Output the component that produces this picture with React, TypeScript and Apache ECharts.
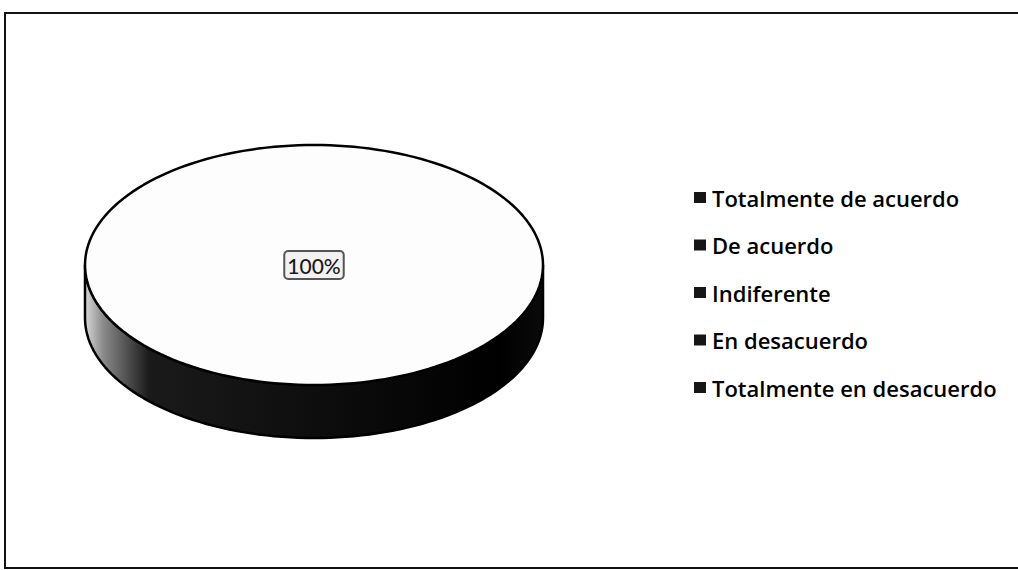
import React, { useEffect, useRef } from "react";
import * as echarts from "echarts";

const categories = [
  "Totalmente de acuerdo",
  "De acuerdo",
  "Indiferente",
  "En desacuerdo",
  "Totalmente en desacuerdo",
];
const values = [100, 0, 0, 0, 0];

const CX = 314;
const CY = 265;
const RX = 229;
const RY = 120;
const DEPTH = 53;
const STEPS = 180;

function pt(a: number, dy = 0): number[] {
  return [CX + RX * Math.sin(a), CY - RY * Math.cos(a) + dy];
}

function arcPoints(a0: number, a1: number, dy = 0): number[][] {
  const n = Math.max(2, Math.ceil(((a1 - a0) / (2 * Math.PI)) * STEPS));
  const out: number[][] = [];
  for (let i = 0; i <= n; i++) out.push(pt(a0 + ((a1 - a0) * i) / n, dy));
  return out;
}

export default function App() {
  const ref = useRef<HTMLDivElement>(null);
  useEffect(() => {
    if (!ref.current) return;
    const chart = echarts.init(ref.current, undefined, { renderer: "svg" });
    const total = values.reduce((s, v) => s + v, 0);

    const renderItem = (params: any, api: any) => {
      const idx = params.dataIndex;
      const v = api.value(0);
      if (!v) return { type: "group", children: [] };
      let before = 0;
      for (let i = 0; i < idx; i++) before += values[i];
      const a0 = (before / total) * 2 * Math.PI;
      const a1 = ((before + v) / total) * 2 * Math.PI;
      const full = v === total;
      const children: any[] = [];
      const s0 = Math.max(a0, Math.PI / 2);
      const s1 = Math.min(a1, (3 * Math.PI) / 2);
      if (s1 > s0) {
        const topArc = arcPoints(s0, s1, 0);
        const botArc = arcPoints(s0, s1, DEPTH).reverse();
        children.push({
          type: "polygon",
          z2: 1,
          shape: { points: topArc.concat(botArc) },
          style: {
            fill: new echarts.graphic.LinearGradient(0, 0, 1, 0, [
              { offset: 0, color: "#d8d8d8" },
              { offset: 0.04, color: "#8a8a8a" },
              { offset: 0.14, color: "#1a1a1a" },
              { offset: 0.9, color: "#000" },
              { offset: 1, color: "#0a0a0a" },
            ]),
            stroke: "#000",
            lineWidth: 2.5,
            lineJoin: "round",
          },
        });
      }
      const topPts = full
        ? arcPoints(0, 2 * Math.PI, 0)
        : [[CX, CY]].concat(arcPoints(a0, a1, 0));
      children.push({
        type: "polygon",
        z2: 2,
        shape: { points: topPts },
        style: { fill: "#fdfdfd", stroke: "#000", lineWidth: 2.5, lineJoin: "round" },
      });
      const mid = (a0 + a1) / 2;
      const frac = full ? 0 : 0.6;
      const lx = CX + RX * frac * Math.sin(mid);
      const ly = CY - RY * frac * Math.cos(mid);
      children.push({
        type: "text",
        z2: 3,
        x: lx,
        y: ly,
        style: {
          text: Math.round((v / total) * 100) + "%",
          fill: "#1a1a1a",
          font: "500 21px Lato",
          align: "center",
          verticalAlign: "middle",
          backgroundColor: "#f2f2f2",
          borderColor: "#555",
          borderWidth: 2,
          borderRadius: 3,
          padding: [3, 2, 2, 2],
        },
      });
      return { type: "group", children };
    };

    chart.setOption({
      animation: false,
      backgroundColor: "#ffffff",
      color: ["#161616", "#161616", "#161616", "#161616", "#161616"],
      legend: {
        orient: "vertical",
        left: 689,
        top: 179,
        itemWidth: 12,
        itemHeight: 11,
        itemGap: 20.5,
        icon: "rect",
        data: categories,
        textStyle: {
          fontFamily: "Open Sans",
          fontWeight: 600,
          fontSize: 22,
          color: "#000",
          lineHeight: 27,
          padding: [0, 0, 0, 1],
        },
        selectedMode: false,
      },
      graphic: [
        {
          type: "rect",
          shape: { x: 5, y: 13, width: 1040, height: 555 },
          style: { fill: "none", stroke: "#111", lineWidth: 2 },
          silent: true,
        },
      ],
      series: [
        {
          type: "custom",
          name: "pie3d",
          coordinateSystem: "none",
          renderItem,
          data: values.map((v) => [v]),
          silent: true,
        },
        {
          type: "pie",
          name: "legendPie",
          radius: [0, 0],
          center: [CX, CY],
          silent: true,
          label: { show: false },
          labelLine: { show: false },
          data: categories.map((c, i) => ({ name: c, value: values[i] })),
        },
      ],
    });
    return () => chart.dispose();
  }, []);

  return (
    <div
      ref={ref}
      style={{ position: "fixed", left: 0, top: 0, width: 1018, height: 570, background: "#fff" }}
    />
  );
}
